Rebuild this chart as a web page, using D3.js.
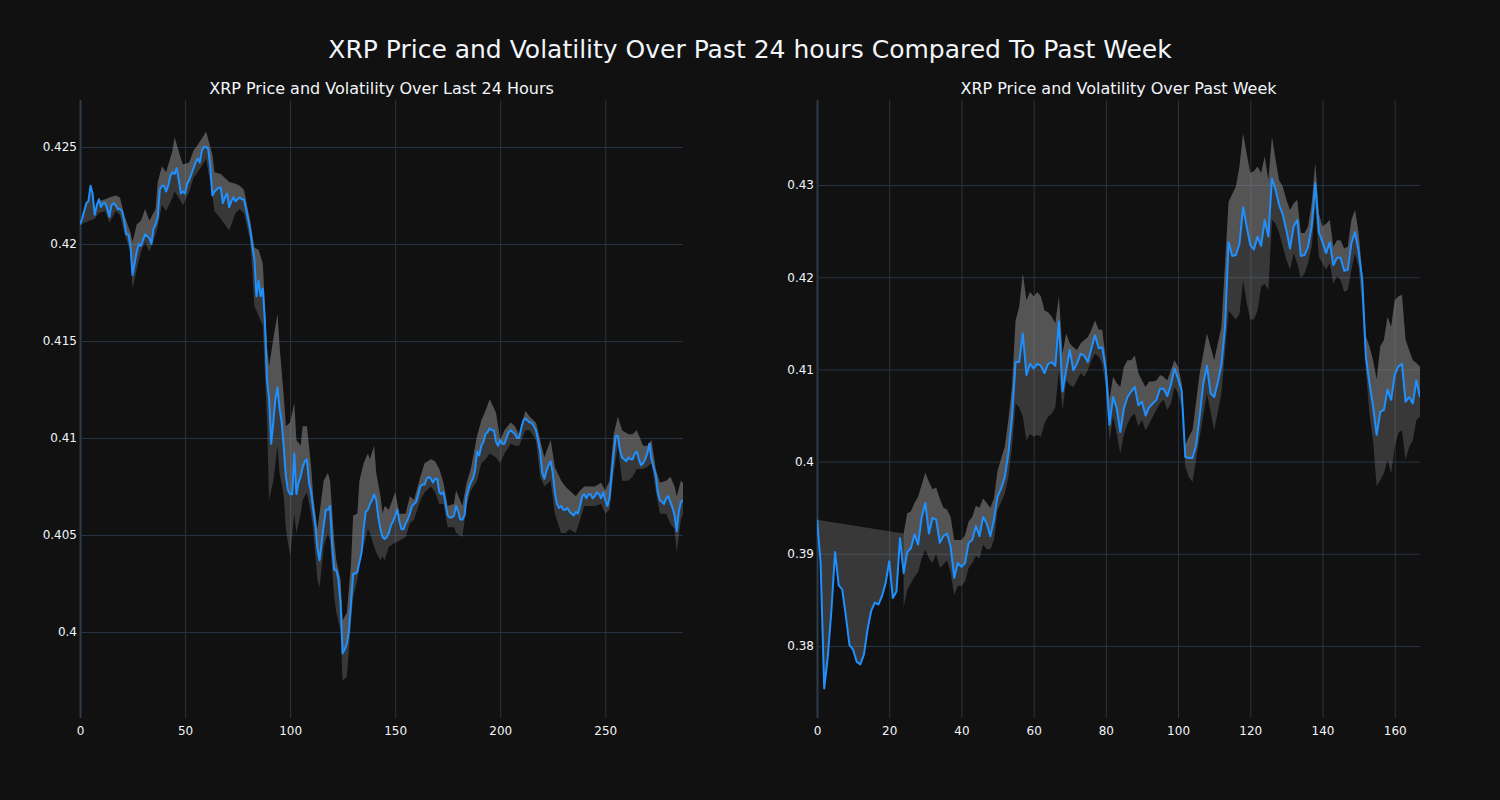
<!DOCTYPE html>
<html><head><meta charset="utf-8">
<script src="https://cdn.jsdelivr.net/npm/d3@7"></script>
<style>body{margin:0;background:#111111;} svg{display:block;}</style>
</head><body><svg id="chart" width="1500" height="800"></svg>
<script>
const chartTitle = "XRP Price and Volatility Over Past 24 hours Compared To Past Week";
const dayTitle = "XRP Price and Volatility Over Last 24 Hours";
const weekTitle = "XRP Price and Volatility Over Past Week";

const dayPrice = [
0.4210,0.4213,0.4217,0.4221,0.4222,0.4230,0.4226,0.4215,0.4220,0.4223,
0.4219,0.4221,0.4221,0.4218,0.4214,0.4220,0.4221,0.4220,0.4218,0.4218,
0.4217,0.4212,0.4205,0.4205,0.4199,0.4184,0.4190,0.4196,0.4200,0.4199,
0.4202,0.4205,0.4204,0.4203,0.4200,0.4208,0.4210,0.4214,0.4228,0.4230,
0.4230,0.4227,0.4230,0.4235,0.4237,0.4236,0.4239,0.4233,0.4226,0.4227,
0.4226,0.4231,0.4233,0.4236,0.4239,0.4242,0.4244,0.4242,0.4248,0.4250,
0.4250,0.4249,0.4240,0.4225,0.4227,0.4228,0.4229,0.4229,0.4221,0.4224,
0.4226,0.4219,0.4222,0.4224,0.4222,0.4223,0.4224,0.4223,0.4223,0.4218,
0.4213,0.4207,0.4199,0.4192,0.4173,0.4181,0.4173,0.4177,0.4160,0.4130,
0.4120,0.4097,0.4108,0.4120,0.4126,0.4115,0.4108,0.4095,0.4080,0.4073,
0.4071,0.4071,0.4092,0.4071,0.4077,0.4080,0.4085,0.4088,0.4089,0.4077,
0.4072,0.4063,0.4055,0.4043,0.4037,0.4046,0.4055,0.4063,0.4063,0.4065,
0.4045,0.4032,0.4032,0.4027,0.4015,0.3989,0.3991,0.3994,0.4001,0.4015,
0.4030,0.4030,0.4031,0.4036,0.4041,0.4053,0.4062,0.4063,0.4066,0.4068,
0.4071,0.4068,0.4059,0.4053,0.4049,0.4048,0.4049,0.4051,0.4055,0.4057,
0.4060,0.4063,0.4057,0.4053,0.4053,0.4056,0.4058,0.4061,0.4065,0.4066,
0.4067,0.4071,0.4075,0.4076,0.4076,0.4079,0.4080,0.4079,0.4077,0.4079,
0.4079,0.4072,0.4071,0.4072,0.4066,0.4060,0.4059,0.4059,0.4060,0.4065,
0.4062,0.4058,0.4058,0.4060,0.4070,0.4074,0.4077,0.4079,0.4083,0.4093,
0.4091,0.4096,0.4098,0.4102,0.4103,0.4105,0.4104,0.4104,0.4098,0.4096,
0.4099,0.4097,0.4097,0.4100,0.4103,0.4104,0.4103,0.4102,0.4100,0.4100,
0.4105,0.4109,0.4110,0.4109,0.4108,0.4108,0.4106,0.4104,0.4099,0.4093,
0.4082,0.4079,0.4083,0.4086,0.4088,0.4082,0.4072,0.4066,0.4064,0.4065,
0.4063,0.4063,0.4064,0.4062,0.4061,0.4060,0.4062,0.4061,0.4065,0.4070,
0.4071,0.4069,0.4071,0.4071,0.4069,0.4070,0.4072,0.4071,0.4069,0.4072,
0.4068,0.4065,0.4069,0.4081,0.4092,0.4101,0.4101,0.4094,0.4090,0.4089,
0.4088,0.4090,0.4089,0.4089,0.4092,0.4093,0.4089,0.4086,0.4087,0.4089,
0.4092,0.4097,0.4089,0.4085,0.4081,0.4072,0.4068,0.4067,0.4066,0.4069,
0.4070,0.4067,0.4064,0.4060,0.4052,0.4062,0.4067,0.4068
];

const dayBandX = [0,7,9,12,14,17,19,21,24,25,27,29,31,33,36,37,39,41,44,45,48,49,52,54,56,59,60,63,64,67,69,71,74,76,78,81,83,85,87,89,90,92,94,95,97,98,100,102,103,105,106,108,110,111,113,114,116,118,119,121,122,124,125,127,129,130,132,133,135,137,138,140,141,143,144,145,147,150,152,155,157,159,162,164,167,169,171,173,175,178,179,182,184,186,189,191,193,195,198,200,202,205,207,209,212,214,217,219,221,224,226,229,231,233,236,238,240,243,245,248,250,252,254,256,258,261,263,265,268,270,272,274,276,279,281,283,284,286,287];
const dayUpper = [0.4210,0.4216,0.4222,0.4223,0.4224,0.4225,0.4224,0.4215,0.4206,0.4201,0.4210,0.4212,0.4218,0.4212,0.4218,0.4232,0.4240,0.4237,0.4248,0.4255,0.4244,0.4241,0.4242,0.4248,0.4251,0.4256,0.4258,0.4246,0.4237,0.4236,0.4234,0.4232,0.4231,0.4230,0.4228,0.4212,0.4198,0.4197,0.4190,0.4147,0.4137,0.4151,0.4164,0.4147,0.4121,0.4106,0.4108,0.4118,0.4099,0.4096,0.4106,0.4106,0.4085,0.4070,0.4053,0.4061,0.4078,0.4082,0.4078,0.4047,0.4037,0.4027,0.4006,0.4010,0.4035,0.4060,0.4061,0.4078,0.4087,0.4092,0.4089,0.4096,0.4082,0.4070,0.4061,0.4065,0.4063,0.4072,0.4061,0.4061,0.4070,0.4068,0.4080,0.4087,0.4089,0.4088,0.4084,0.4077,0.4065,0.4066,0.4073,0.4065,0.4077,0.4084,0.4101,0.4109,0.4114,0.4120,0.4113,0.4099,0.4104,0.4108,0.4106,0.4102,0.4114,0.4111,0.4108,0.4099,0.4090,0.4099,0.4085,0.4078,0.4075,0.4073,0.4070,0.4073,0.4075,0.4075,0.4075,0.4077,0.4073,0.4078,0.4102,0.4111,0.4104,0.4102,0.4102,0.4104,0.4096,0.4096,0.4099,0.4084,0.4077,0.4078,0.4080,0.4075,0.4070,0.4078,0.4077];
const dayLower = [0.4210,0.4213,0.4216,0.4217,0.4211,0.4217,0.4215,0.4206,0.4196,0.4177,0.4187,0.4196,0.4201,0.4196,0.4205,0.4209,0.4220,0.4217,0.4224,0.4227,0.4222,0.4220,0.4227,0.4234,0.4237,0.4242,0.4244,0.4225,0.4217,0.4213,0.4210,0.4207,0.4216,0.4218,0.4216,0.4202,0.4168,0.4163,0.4158,0.4109,0.4068,0.4078,0.4096,0.4082,0.4070,0.4053,0.4039,0.4061,0.4051,0.4061,0.4068,0.4072,0.4061,0.4053,0.4027,0.4023,0.4044,0.4051,0.4047,0.4018,0.4010,0.4001,0.3975,0.3977,0.4005,0.4018,0.4027,0.4035,0.4044,0.4053,0.4051,0.4044,0.4041,0.4037,0.4039,0.4037,0.4044,0.4046,0.4047,0.4049,0.4056,0.4058,0.4068,0.4072,0.4075,0.4072,0.4066,0.4066,0.4054,0.4054,0.4051,0.4049,0.4065,0.4073,0.4078,0.4087,0.4089,0.4092,0.4090,0.4087,0.4092,0.4097,0.4096,0.4096,0.4104,0.4104,0.4099,0.4080,0.4075,0.4078,0.4061,0.4051,0.4051,0.4053,0.4051,0.4058,0.4065,0.4065,0.4065,0.4066,0.4061,0.4063,0.4082,0.4096,0.4078,0.4078,0.4080,0.4084,0.4084,0.4085,0.4087,0.4073,0.4061,0.4061,0.4056,0.4053,0.4041,0.4058,0.4061];

const weekPrice = [
0.3937,0.3890,0.3754,0.3789,0.3839,0.3902,0.3866,0.3861,0.3832,0.3801,
0.3796,0.3783,0.3780,0.3791,0.3818,0.3838,0.3847,0.3845,0.3854,0.3868,
0.3892,0.3852,0.3859,0.3917,0.3879,0.3902,0.3906,0.3921,0.3910,0.3940,
0.3955,0.3922,0.3939,0.3937,0.3912,0.3919,0.3922,0.3908,0.3874,0.3890,
0.3886,0.3890,0.3912,0.3915,0.3930,0.3919,0.3940,0.3933,0.3919,0.3937,
0.3962,0.3971,0.3983,0.4009,0.4048,0.4108,0.4108,0.4139,0.4094,0.4106,
0.4101,0.4106,0.4104,0.4096,0.4106,0.4108,0.4104,0.4152,0.4076,0.4099,
0.4121,0.4099,0.4106,0.4117,0.4115,0.4108,0.4123,0.4137,0.4123,0.4124,
0.4099,0.4040,0.4070,0.4058,0.4032,0.4058,0.4070,0.4076,0.4081,0.4061,
0.4065,0.4050,0.4059,0.4063,0.4067,0.4079,0.4079,0.4071,0.4083,0.4101,
0.4090,0.4077,0.4005,0.4004,0.4004,0.4018,0.4050,0.4085,0.4104,0.4074,
0.4070,0.4086,0.4105,0.4146,0.4238,0.4223,0.4224,0.4236,0.4276,0.4255,
0.4235,0.4230,0.4244,0.4234,0.4262,0.4244,0.4307,0.4295,0.4278,0.4268,
0.4251,0.4231,0.4255,0.4262,0.4223,0.4224,0.4233,0.4255,0.4302,0.4249,
0.4238,0.4226,0.4238,0.4213,0.4221,0.4221,0.4207,0.4208,0.4237,0.4249,
0.4228,0.4197,0.4114,0.4085,0.4060,0.4029,0.4054,0.4056,0.4078,0.4067,
0.4094,0.4103,0.4106,0.4065,0.4070,0.4063,0.4088,0.4070
];

const weekBandX = [0,24,25,26,27,28,29,30,31,32,33,34,35,36,37,38,39,40,41,42,43,44,45,46,47,48,49,50,52,53,54,55,56,57,58,59,60,61,62,63,64,65,66,67,68,69,70,71,72,73,74,75,76,77,78,79,80,81,82,83,84,85,86,87,88,89,90,91,92,93,94,95,96,97,98,99,100,101,102,103,104,106,108,110,112,114,116,117,118,119,120,121,122,123,124,125,126,127,128,129,130,131,132,133,134,135,136,137,138,139,140,141,142,143,144,145,146,147,148,149,150,151,152,153,154,155,156,157,158,159,160,161,162,163,164,165,166,167];
const weekUpper = [0.3937,0.3922,0.3944,0.3946,0.3955,0.3962,0.3975,0.3988,0.3978,0.3970,0.3972,0.3960,0.3950,0.3948,0.3940,0.3915,0.3915,0.3915,0.3920,0.3935,0.3940,0.3952,0.3950,0.3960,0.3955,0.3950,0.3960,0.3990,0.4016,0.4045,0.4081,0.4153,0.4168,0.4204,0.4175,0.4184,0.4179,0.4184,0.4179,0.4164,0.4162,0.4157,0.4150,0.4179,0.4117,0.4139,0.4128,0.4124,0.4121,0.4128,0.4132,0.4135,0.4143,0.4153,0.4143,0.4143,0.4110,0.4067,0.4092,0.4085,0.4081,0.4103,0.4110,0.4110,0.4115,0.4096,0.4088,0.4081,0.4087,0.4087,0.4088,0.4094,0.4092,0.4088,0.4099,0.4110,0.4103,0.4085,0.4018,0.4027,0.4034,0.4096,0.4139,0.4110,0.4146,0.4282,0.4298,0.4320,0.4356,0.4334,0.4313,0.4315,0.4320,0.4313,0.4331,0.4305,0.4352,0.4327,0.4305,0.4298,0.4284,0.4273,0.4280,0.4284,0.4248,0.4248,0.4255,0.4280,0.4324,0.4269,0.4255,0.4258,0.4262,0.4233,0.4240,0.4240,0.4231,0.4233,0.4262,0.4273,0.4248,0.4204,0.4136,0.4125,0.4110,0.4089,0.4125,0.4132,0.4157,0.4146,0.4175,0.4179,0.4181,0.4132,0.4121,0.4110,0.4107,0.4103];
const weekLower = [null,0.3842,0.3861,0.3868,0.3875,0.3880,0.3895,0.3905,0.3895,0.3890,0.3900,0.3885,0.3888,0.3893,0.3880,0.3855,0.3865,0.3865,0.3870,0.3885,0.3890,0.3898,0.3895,0.3910,0.3905,0.3905,0.3915,0.3947,0.3965,0.3983,0.4016,0.4063,0.4059,0.4049,0.4023,0.4030,0.4027,0.4029,0.4027,0.4041,0.4049,0.4052,0.4059,0.4099,0.4056,0.4088,0.4083,0.4081,0.4088,0.4096,0.4092,0.4099,0.4110,0.4117,0.4114,0.4106,0.4081,0.4023,0.4049,0.4030,0.4009,0.4030,0.4041,0.4049,0.4052,0.4038,0.4045,0.4034,0.4041,0.4049,0.4056,0.4063,0.4067,0.4056,0.4063,0.4081,0.4074,0.4059,0.3994,0.3983,0.3978,0.4027,0.4074,0.4034,0.4074,0.4164,0.4154,0.4160,0.4197,0.4172,0.4154,0.4154,0.4164,0.4190,0.4193,0.4186,0.4262,0.4258,0.4248,0.4233,0.4219,0.4208,0.4226,0.4215,0.4199,0.4204,0.4215,0.4233,0.4277,0.4222,0.4215,0.4208,0.4215,0.4193,0.4201,0.4197,0.4184,0.4186,0.4208,0.4226,0.4211,0.4168,0.4099,0.4052,0.4023,0.3973,0.3980,0.3987,0.4002,0.3987,0.4016,0.4031,0.4034,0.4002,0.4016,0.4023,0.4045,0.4049];

const dayXTicks = [0, 50, 100, 150, 200, 250];
const dayYTicks = [0.4, 0.405, 0.41, 0.415, 0.42, 0.425];
const dayYTickLabels = ["0.4", "0.405", "0.41", "0.415", "0.42", "0.425"];
const weekXTicks = [0, 20, 40, 60, 80, 100, 120, 140, 160];
const weekYTicks = [0.38, 0.39, 0.40, 0.41, 0.42, 0.43];
const weekYTickLabels = ["0.38", "0.39", "0.4", "0.41", "0.42", "0.43"];

const FONT = "'DejaVu Sans', Verdana, sans-serif";
const TEXT = "#f2f5fa";
const GRID = "#283442";
const LINE = "#1e90ff";
const FILL = "rgba(150,150,150,0.3)";

const svg = d3.select("#chart");
svg.append("rect").attr("width", 1500).attr("height", 800).attr("fill", "#111111");

svg.append("text").attr("x", 750).attr("y", 58).attr("text-anchor", "middle")
  .attr("font-family", FONT).attr("font-size", 25).attr("fill", TEXT).text(chartTitle);

function panel(cfg) {
  const x = d3.scaleLinear().domain(cfg.xDomain).range([cfg.left, cfg.right]);
  const y = d3.scaleLinear().domain(cfg.yDomain).range([cfg.bottom, cfg.top]);
  const g = svg.append("g");

  const xAxis = d3.axisBottom(x).tickValues(cfg.xTicks).tickSize(-(cfg.bottom - cfg.top)).tickPadding(8).tickFormat(d3.format("d"));
  const gx = g.append("g").attr("transform", `translate(0,${cfg.bottom})`).call(xAxis);
  gx.select(".domain").remove();
  gx.selectAll(".tick line").attr("stroke", GRID).attr("stroke-width", 1);
  gx.selectAll(".tick text").attr("fill", TEXT).attr("font-family", FONT).attr("font-size", 12);

  const yAxis = d3.axisLeft(y).tickValues(cfg.yTicks).tickSize(-(cfg.right - cfg.left)).tickPadding(3)
    .tickFormat((d, i) => cfg.yLabels[i]);
  const gy = g.append("g").attr("transform", `translate(${cfg.left},0)`).call(yAxis);
  gy.select(".domain").remove();
  gy.selectAll(".tick line").attr("stroke", GRID).attr("stroke-width", 1);
  gy.selectAll(".tick text").attr("fill", TEXT).attr("font-family", FONT).attr("font-size", 12);

  gx.selectAll(".tick").filter(d => d === 0).select("line").attr("stroke-width", 2).attr("stroke", "#2e3b4a");

  const clipId = "clip" + cfg.id;
  svg.append("clipPath").attr("id", clipId).append("rect")
    .attr("x", cfg.left).attr("y", cfg.top).attr("width", cfg.right - cfg.left).attr("height", cfg.bottom - cfg.top);
  const plot = g.append("g").attr("clip-path", `url(#${clipId})`);

  const bandPts = cfg.bandX.map((bx, i) => ({x: bx, u: cfg.upper[i], l: cfg.lower[i]})).filter(d => d.l != null);
  plot.append("path").datum(bandPts)
    .attr("d", d3.area().x(d => x(d.x)).y0(d => y(d.l)).y1(d => y(d.u)))
    .attr("fill", FILL).attr("stroke", "none");

  const upPts = cfg.bandX.map((bx, i) => [x(bx), y(cfg.upper[i])]);
  const x0 = d3.min(cfg.bandX), x1 = d3.max(cfg.bandX);
  const pricePts = d3.range(x1, x0 - 1, -1).map(i => [x(i), y(cfg.price[i])]);
  plot.append("path").attr("d", d3.line()(upPts.concat(pricePts)) + "Z")
    .attr("fill", FILL).attr("stroke", "none");

  plot.append("path").datum(cfg.price)
    .attr("d", d3.line().x((d, i) => x(i)).y(d => y(d)))
    .attr("fill", "none").attr("stroke", LINE).attr("stroke-width", 2).attr("stroke-linejoin", "round");

  svg.append("text").attr("x", (cfg.left + cfg.right) / 2).attr("y", 94).attr("text-anchor", "middle")
    .attr("font-family", FONT).attr("font-size", 16).attr("fill", TEXT).text(cfg.title);
}

panel({id: "day", title: dayTitle, left: 80, right: 683, top: 100, bottom: 718,
  xDomain: [0, dayPrice.length - 1], yDomain: [0.39557, 0.42742],
  xTicks: dayXTicks, yTicks: dayYTicks, yLabels: dayYTickLabels,
  price: dayPrice, bandX: dayBandX, upper: dayUpper, lower: dayLower});

panel({id: "week", title: weekTitle, left: 817, right: 1420, top: 100, bottom: 718,
  xDomain: [0, weekPrice.length - 1], yDomain: [0.37219, 0.43922],
  xTicks: weekXTicks, yTicks: weekYTicks, yLabels: weekYTickLabels,
  price: weekPrice, bandX: weekBandX, upper: weekUpper, lower: weekLower});
</script>
</body></html>
